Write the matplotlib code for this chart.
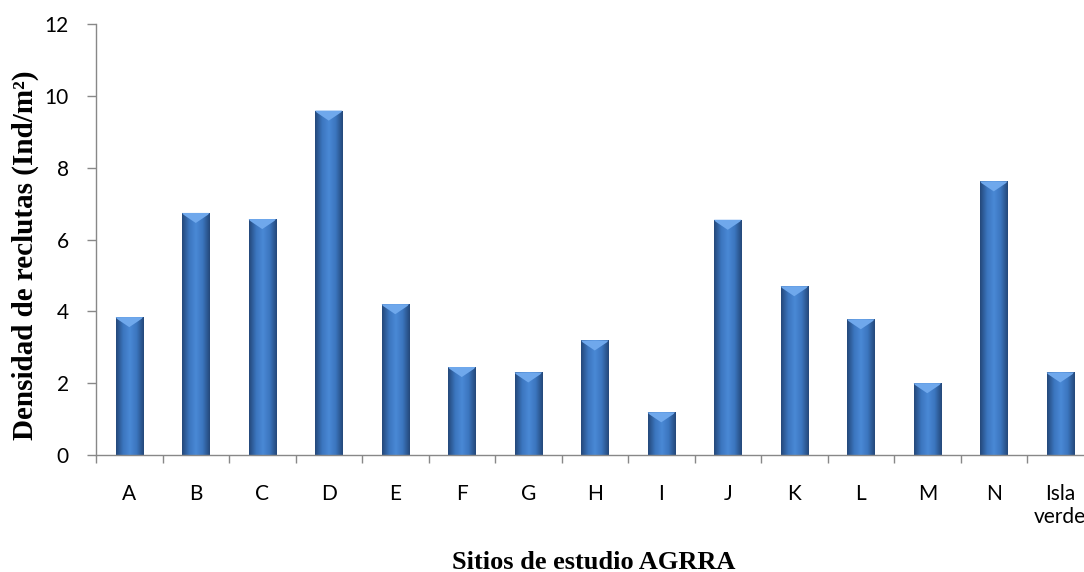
import numpy as np
import matplotlib
matplotlib.use("Agg")
import matplotlib.pyplot as plt
from matplotlib.colors import LinearSegmentedColormap
from matplotlib.patches import Polygon

# data
sitios = ['A', 'B', 'C', 'D', 'E', 'F', 'G', 'H', 'I', 'J', 'K', 'L', 'M', 'N', 'Isla\nverde']
densidad = [3.84, 6.74, 6.57, 9.59, 4.2, 2.45, 2.30, 3.19, 1.19, 6.55, 4.70, 3.78, 2.0, 7.62, 2.30]

fig = plt.figure(figsize=(10.84, 5.72), dpi=100)
# axes runs off the right edge like the original screenshot
ax = fig.add_axes([96/1084, 117/572, 997.5/1084, 431/572])

x = np.arange(len(sitios))
bw = 0.41
bars = ax.bar(x, densidad, width=bw, color='#3A72B8', edgecolor='#2A5288', linewidth=0.6, zorder=2)

# horizontal shading on each bar for the bevel look
cmap = LinearSegmentedColormap.from_list('bev', ['#24487A', '#3B75BE', '#4A89D6', '#3B75BE', '#24487A'])
grad = np.linspace(0, 1, 64).reshape(1, -1)
for b, v in zip(bars, densidad):
    x0 = b.get_x()
    x1 = x0 + b.get_width()
    im = ax.imshow(grad, cmap=cmap, aspect='auto', extent=(x0, x1, 0, v), zorder=2.5)
    im.set_clip_path(b)
    # light chevron at the top
    d = 0.28
    tri = Polygon([(x0, v), (x1, v), (x1 - 0.02, v - 0.05), ((x0 + x1) / 2, v - d), (x0 + 0.02, v - 0.05)],
                  closed=True, facecolor='#6FA8EC', edgecolor='none', zorder=3)
    ax.add_patch(tri)

ax.set_xlim(-0.5, len(sitios) - 0.5)
ax.set_ylim(0, 12)
ax.set_yticks(np.arange(0, 13, 2))

ax.set_xticks(x)
ax.set_xticklabels(sitios, fontsize=15, family='Lato', va='top', ha='center')
ax.set_xticks(np.arange(-0.5, len(sitios), 1), minor=True)
ax.tick_params(axis='x', which='major', length=0, pad=21)
ax.tick_params(axis='x', which='minor', length=6, width=1, color='#888888')
ax.tick_params(axis='y', length=6.5, width=1, color='#888888', pad=13)
for t in ax.get_yticklabels():
    t.set_fontsize(15)
    t.set_family('Lato')

for s in ['top', 'right']:
    ax.spines[s].set_visible(False)
for s in ['left', 'bottom']:
    ax.spines[s].set_color('#888888')
    ax.spines[s].set_linewidth(1)

fig.text(25/1084, 1 - 255/572, 'Densidad de reclutas (Ind/m²)', rotation=90, ha='center', va='center',
         fontsize=21, fontweight='bold', family='Liberation Serif')
fig.text(594/1084, 3/572, 'Sitios de estudio AGRRA', ha='center', va='baseline',
         fontsize=19, fontweight='bold', family='Liberation Serif')

fig.savefig('out.png', dpi=100)
